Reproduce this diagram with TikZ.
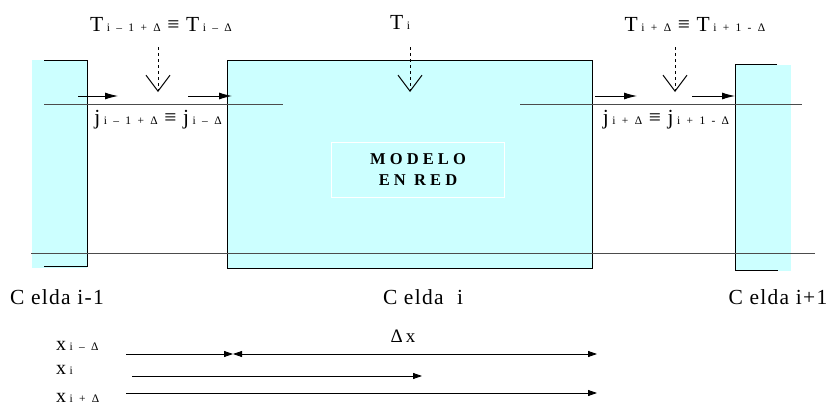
\documentclass[tikz,border=0pt]{standalone}
\usepackage{fontspec}
\setmainfont{Liberation Serif}
\newfontfamily\spfont[LetterSpace=6]{Liberation Serif}
\newfontfamily\subfont[LetterSpace=30]{Liberation Serif}
\newfontfamily\netfont[LetterSpace=25]{Liberation Serif}
\usetikzlibrary{arrows.meta,positioning}
\definecolor{cellcyan}{RGB}{204,255,255}
\newcommand{\idx}[1]{\,{\subfont\fontsize{11.5}{12}\selectfont #1}}

\begin{document}
\begin{tikzpicture}[x=1pt,y=-1pt,
    wall/.style={line width=1pt},
    level/.style={draw=black!70,line width=0.9pt},
    flux/.style={line width=0.9pt,-{Latex[length=13pt,width=7pt]}},
    probe/.style={dashed,line width=1pt,-{Straight Barb[length=16pt,width=24pt]}},
    dist/.style={line width=0.8pt,-{Triangle[length=9pt,width=6pt]}},
    lbl/.style={inner sep=1pt,font=\fontsize{21.5}{23}\selectfont\spfont},
    xlbl/.style={inner sep=1pt,anchor=west,font=\fontsize{20}{22}\selectfont}]
\useasboundingbox (0,0) rectangle (831,407);
% cells
\fill[cellcyan] (32,60) rectangle (87,268);
\draw[wall] (44,60) -| (87,266) -- (44,266);
\node[draw,wall,fill=cellcyan,minimum width=365pt,minimum height=208pt,inner sep=0pt,anchor=north west] (cellc) at (227,60) {};
\node[draw=white,line width=1pt,minimum width=173pt,minimum height=55pt,align=center,font=\fontsize{16.5}{21}\selectfont\netfont\bfseries] (net) at (418,170) {MODELO\\EN RED};
\fill[cellcyan] (735,65) rectangle (791,271);
\draw[wall] (777,64) -| (735,270) -- (778,270);
% levels
\draw[level] (44,104) -- (283,104);
\draw[level] (520,104) -- (802,104);
\draw[level] (31,253) -- (815,253);
% temperatures
\node[lbl] (tl) at (161,24) {T\idx{i – 1 + Δ} ≡ T\idx{i – Δ}};
\node[lbl] (tc) at (400,22) {T\idx{i}};
\node[lbl] (tr) at (695,24) {T\idx{i + Δ} ≡ T\idx{i + 1 - Δ}};
\coordinate (pl0) at (158,47); \coordinate (pl1) at (158,92);
\coordinate (pc0) at (410,47); \coordinate (pc1) at (410,92);
\coordinate (pr0) at (675,47); \coordinate (pr1) at (675,92);
\draw[probe] (pl0) -- (pl1);
\draw[probe] (pc0) -- (pc1);
\draw[probe] (pr0) -- (pr1);
% fluxes
\coordinate (fa) at (78,96); \coordinate (fb) at (118,96);
\coordinate (fc) at (188,96); \coordinate (fd) at (232,96);
\coordinate (fe) at (595,96); \coordinate (ff) at (637,96);
\coordinate (fg) at (692,96); \coordinate (fh) at (735,96);
\draw[flux] (fa) -- (fb);
\draw[flux] (fc) -- (fd);
\draw[flux] (fe) -- (ff);
\draw[flux] (fg) -- (fh);
\node[lbl] (jl) at (158,120) {j\idx{i – 1 + Δ} ≡ j\idx{i – Δ}};
\node[lbl] (jr) at (666,120) {j\idx{i + Δ} ≡ j\idx{i + 1 - Δ}};
% cell names
\node[lbl] (celdal) at (57,297) {C elda i-1};
\node[lbl] (celdac) at (423,297) {C elda \ i};
\node[lbl] (celdar) at (778,297) {C elda i+1};
% distances
\node[xlbl] (xm) at (55,346) {x\idx{i –\ Δ}};
\node[xlbl] (xi) at (55,370) {x\idx{i}};
\node[xlbl] (xp) at (55,398) {x\idx{i + Δ}};
\node[inner sep=1pt,font=\fontsize{19}{21}\selectfont] (dx) at (403,336) {Δ\,x};
\coordinate (d0) at (126,354); \coordinate (d1) at (233,354); \coordinate (d2) at (597,354);
\coordinate (e0) at (132,376); \coordinate (e1) at (422,376);
\coordinate (g0) at (126,393); \coordinate (g1) at (597,393);
\draw[dist] (d0) -- (d1);
\draw[dist,{Triangle[length=9pt,width=6pt]}-{Triangle[length=9pt,width=6pt]}] (d1) -- (d2);
\draw[dist] (e0) -- (e1);
\draw[dist] (g0) -- (g1);
\end{tikzpicture}
\end{document}
